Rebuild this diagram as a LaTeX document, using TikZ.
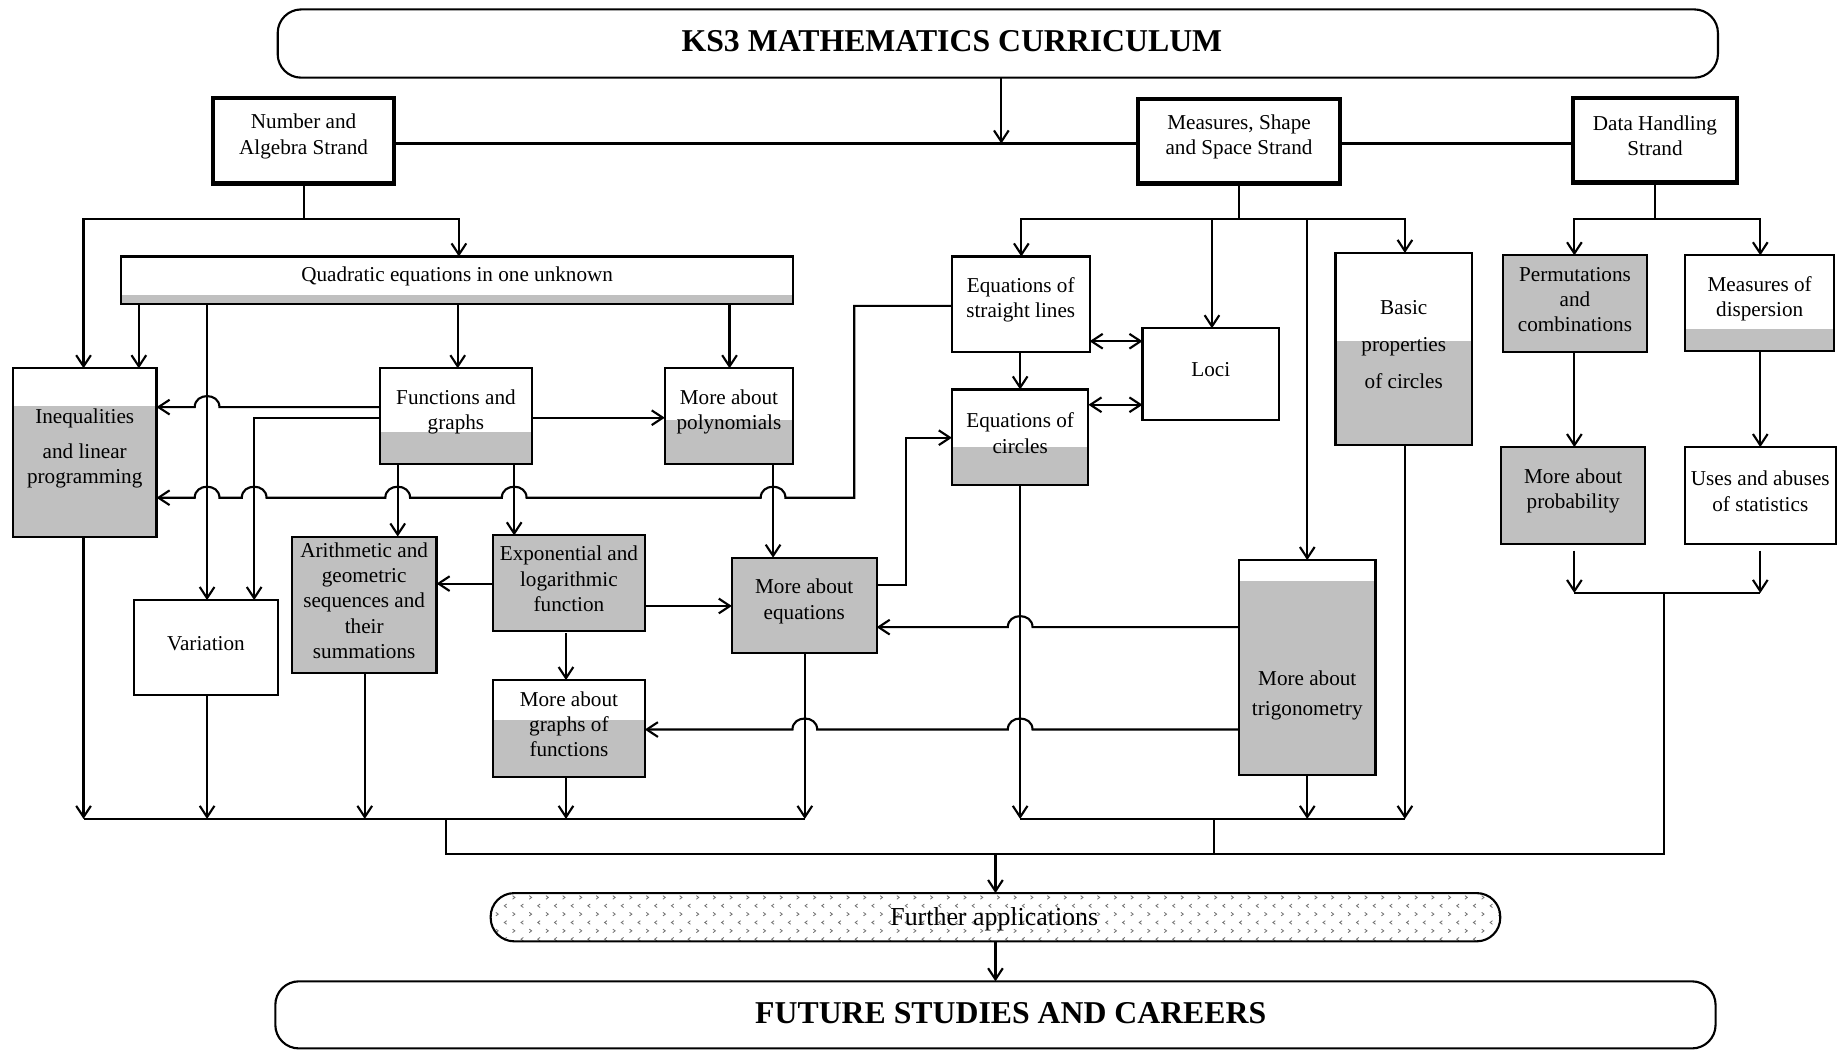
\documentclass[tikz,border=0pt]{standalone}
\usepackage{fontspec}
\setmainfont{Liberation Serif}
\usetikzlibrary{arrows.meta,patterns}
\definecolor{gbox}{HTML}{C0C0C0}
\newcommand\fs{\fontsize{18}{21.5}\selectfont}
\newcommand\hopL[2]{-- ({#1+10.5},#2) .. controls ({#1+10.5},{#2-12.5}) and ({#1-10.5},{#2-12.5}) .. ({#1-10.5},#2)}
\newcommand\bx[7]{\node[#6,minimum width={(#4-#2)*1pt},minimum height={(#5-#3)*1pt},anchor=north west] (#1) at (#2,#3) {};
 \node[txt] (#1-t) at ([yshift=3.5pt]#1.center) {#7};}
\pgfdeclarepatternformonly{chev}{\pgfqpoint{-1pt}{-1pt}}{\pgfqpoint{15pt}{15pt}}{\pgfqpoint{14.2pt}{14.2pt}}{%
 \pgfsetlinewidth{0.7pt}%
 \pgfpathmoveto{\pgfqpoint{4.6pt}{12.1pt}}\pgfpathlineto{\pgfqpoint{2.6pt}{10.6pt}}\pgfpathlineto{\pgfqpoint{4.6pt}{9.1pt}}%
 \pgfpathmoveto{\pgfqpoint{9.6pt}{5pt}}\pgfpathlineto{\pgfqpoint{11.6pt}{3.5pt}}\pgfpathlineto{\pgfqpoint{9.6pt}{2pt}}%
 \pgfusepath{stroke}}
\tikzset{
 conn/.style={line width=1.8pt},
 arr/.style={conn,-{Straight Barb[length=9.5pt,width=12.5pt]}},
 darr/.style={conn,{Straight Barb[length=9.5pt,width=12.5pt]}-{Straight Barb[length=9.5pt,width=12.5pt]}},
 box/.style={draw,line width=1.8pt,inner sep=0pt,outer sep=0pt,align=center,font=\fs},
 strand/.style={box,line width=3.6pt},
 part/.style={box,path picture={\fill[gbox] (path picture bounding box.south west) rectangle ([yshift=#1pt]path picture bounding box.south east);}},
 full/.style={box,fill=gbox},
 txt/.style={inner sep=0pt,align=center,font=\fs},
 big/.style={inner sep=0pt,font=\fontsize{27}{30}\selectfont\bfseries},
}
\begin{document}
\begin{tikzpicture}[x=1pt,y=-1pt]
\useasboundingbox (0,0) rectangle (1568,894);
% title and end boxes
\node[box,rounded corners=20pt,minimum width=1224pt,minimum height=58pt,anchor=north west] (title) at (236,8) {};
\node[big] (titletxt) at (809,35) {KS3 MATHEMATICS CURRICULUM};
\node[box,rounded corners=20pt,minimum width=1224pt,minimum height=57pt,anchor=north west] (future) at (234,834) {};
\node[big] (futuretxt) at (859,861) {FUTURE STUDIES AND CAREERS};
\node[box,rounded corners=20pt,pattern=chev,pattern color=black!55,minimum width=858pt,minimum height=41pt,anchor=north west] (further) at (417,759) {};
\node[inner sep=0pt,font=\fontsize{22}{24}\selectfont] (furthertxt) at (845,781) {Further applications};
% strands
\bx{numalg}{181}{83}{335}{156}{strand}{Number and\\Algebra Strand}
\bx{mss}{967}{84}{1139}{156}{strand}{Measures, Shape\\and Space Strand}
\bx{dh}{1337}{83}{1476}{155}{strand}{Data Handling\\Strand}
% number and algebra
\bx{quad}{103}{218}{674}{258}{part=7}{Quadratic equations in one unknown}
\bx{ineq}{11}{313}{133}{456}{part=111}{Inequalities\\[8.5pt]and linear\\programming}
\bx{func}{323}{313}{452}{394}{part=27}{Functions and\\graphs}
\bx{poly}{565}{313}{674}{394}{part=37}{More about\\polynomials}
\bx{arith}{248}{456}{371}{572}{full}{Arithmetic and\\geometric\\sequences and\\their\\summations}
\bx{expo}{419}{455}{548}{536}{full}{Exponential and\\logarithmic\\function}
\bx{var}{114}{510}{236}{591}{box}{Variation}
\bx{graphs}{419}{578}{548}{660}{part=48}{More about\\graphs of\\functions}
\bx{meq}{622}{474}{745}{555}{full}{More about\\equations}
% measures shape space
\bx{sl}{809}{218}{926}{299}{box}{Equations of\\straight lines}
\bx{circ}{809}{331}{925}{412}{part=32}{Equations of\\circles}
\bx{loci}{971}{279}{1087}{357}{box}{Loci}
\bx{basic}{1135}{215}{1251}{378}{part=88}{Basic\\[10pt]properties\\[10pt]of circles}
\node[part=165,minimum width=116pt,minimum height=183pt,anchor=north west] (trig) at (1053,476) {};
\node[txt] (trigtxt) at (1111,591) {More about\\[4.5pt]trigonometry};
% data handling
\bx{perm}{1277}{217}{1400}{299}{full}{Permutations\\and\\combinations}
\bx{disp}{1432}{217}{1559}{298}{part=18}{Measures of\\dispersion}
\bx{prob}{1276}{380}{1398}{462}{full}{More about\\probability}
\bx{uses}{1432}{380}{1560}{462}{box}{Uses and abuses\\of statistics}
% coordinates
\coordinate (hub) at (851,122);
\coordinate (busL) at (71,696); \coordinate (busLr) at (684,696);
\coordinate (busM) at (867,696); \coordinate (busMr) at (1194,696);
\coordinate (busD) at (1338,504); \coordinate (busDr) at (1496,504);
\coordinate (joinL) at (379,696); \coordinate (joinM) at (1032,696); \coordinate (joinD) at (1414,504);
\coordinate (collect) at (846,726);
% top connectors
\draw[arr] (hub |- title.south) -- (hub);
\draw[conn] (numalg.east |- hub) -- (mss.west |- hub);
\draw[conn] (mss.east |- hub) -- (dh.west |- hub);
% number & algebra split
\draw[arr] (numalg.south) |- (71,186) -- (71,0 |- ineq.north);
\draw[arr] (numalg.south) |- (390,186) -- (390,0 |- quad.north);
\draw[arr] (118,0 |- quad.south) -- (118,0 |- ineq.north);
\draw[arr] (176,0 |- quad.south) -- (176,0 |- var.north);
\draw[arr] (389,0 |- quad.south) -- (389,0 |- func.north);
\draw[arr] (620,0 |- quad.south) -- (620,0 |- poly.north);
\draw[arr] (func.west |- 0,346) \hopL{176}{346} -- (ineq.east |- 0,346);
\draw[arr] (func.west |- 0,355) -| (216,0 |- var.north);
\draw[arr] (func.east |- 0,355) -- (poly.west |- 0,355);
\draw[arr] (sl.west |- 0,260) -- (726,260) -- (726,423) \hopL{657}{423} \hopL{437}{423} \hopL{338}{423} \hopL{216}{423} \hopL{176}{423} -- (ineq.east |- 0,423);
\draw[arr] (338,0 |- func.south) -- (338,0 |- arith.north);
\draw[arr] (437,0 |- func.south) -- (437,0 |- expo.north);
\draw[arr] (expo.west |- 0,496) -- (arith.east |- 0,496);
\draw[arr] (expo.east |- 0,515) -- (meq.west |- 0,515);
\draw[arr] (481,538) -- (481,0 |- graphs.north);
\draw[arr] (657,0 |- poly.south) -- (657,0 |- meq.north);
\draw[arr] (meq.east |- 0,497) -- (770,497) |- (circ.west |- 0,372);
% measures split
\draw[arr] (mss.south) |- (868,186) -- (868,0 |- sl.north);
\draw[arr] (mss.south) |- (1194,186) -- (1194,0 |- basic.north);
\draw[arr] (1030,186) -- (1030,0 |- loci.north);
\draw[arr] (1111,186) -- (1111,0 |- trig.north);
\draw[arr] (867,0 |- sl.south) -- (867,0 |- circ.north);
\draw[darr] (sl.east |- 0,290) -- (loci.west |- 0,290);
\draw[darr] (circ.east |- 0,344) -- (loci.west |- 0,344);
\draw[arr] (trig.west |- 0,533) \hopL{867}{533} -- (meq.east |- 0,533);
\draw[arr] (trig.west |- 0,620) \hopL{867}{620} \hopL{684}{620} -- (graphs.east |- 0,620);
% data handling
\draw[arr] (dh.south) |- (1338,186) -- (1338,0 |- perm.north);
\draw[arr] (dh.south) |- (1496,186) -- (1496,0 |- disp.north);
\draw[arr] (1338,0 |- perm.south) -- (1338,0 |- prob.north);
\draw[arr] (1496,0 |- disp.south) -- (1496,0 |- uses.north);
\draw[arr] (1338,468) -- (busD);
\draw[arr] (1496,468) -- (busDr);
% buses
\draw[arr] (busL |- ineq.south) -- (busL);
\draw[arr] (176,0 |- var.south) -- (176,0 |- busL);
\draw[arr] (310,0 |- arith.south) -- (310,0 |- busL);
\draw[arr] (481,0 |- graphs.south) -- (481,0 |- busL);
\draw[arr] (busLr |- meq.south) -- (busLr);
\draw[arr] (busM |- circ.south) -- (busM);
\draw[arr] (1111,0 |- trig.south) -- (1111,0 |- busM);
\draw[arr] (busMr |- basic.south) -- (busMr);
\draw[conn] (busL) -- (busLr);
\draw[conn] (busM) -- (busMr);
\draw[conn] (busD) -- (busDr);
\draw[conn] (joinL) |- (joinD |- collect) -- (joinD);
\draw[conn] (joinM) -- (joinM |- collect);
\draw[arr] (collect) -- (collect |- further.north);
\draw[arr] (collect |- further.south) -- (collect |- future.north);
\end{tikzpicture}
\end{document}
